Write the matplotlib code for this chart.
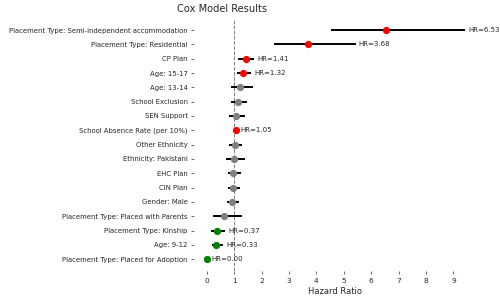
import numpy as np
import matplotlib
matplotlib.use("Agg")
import matplotlib.pyplot as plt

# variables, top to bottom
names = [
    "Placement Type: Semi-independent accommodation",
    "Placement Type: Residential",
    "CP Plan",
    "Age: 15-17",
    "Age: 13-14",
    "School Exclusion",
    "SEN Support",
    "School Absence Rate (per 10%)",
    "Other Ethnicity",
    "Ethnicity: Pakistani",
    "EHC Plan",
    "CIN Plan",
    "Gender: Male",
    "Placement Type: Placed with Parents",
    "Placement Type: Kinship",
    "Age: 9-12",
    "Placement Type: Placed for Adoption",
]
hr = [6.53, 3.68, 1.41, 1.32, 1.22, 1.15, 1.08, 1.05, 1.02, 1.00, 0.97, 0.96, 0.91, 0.61, 0.37, 0.33, 0.00]
ci_low = [4.55, 2.50, 1.17, 1.13, 0.90, 0.93, 0.85, 1.02, 0.86, 0.75, 0.81, 0.81, 0.78, 0.27, 0.20, 0.23, 0.00]
ci_high = [9.39, 5.39, 1.70, 1.58, 1.66, 1.43, 1.35, 1.08, 1.25, 1.35, 1.20, 1.18, 1.12, 1.25, 0.64, 0.55, 0.00]
significant = [True, True, True, True, False, False, False, True, False, False, False, False, False, False, True, True, True]

txt = "#262626"

fig, ax = plt.subplots(figsize=(5, 3), dpi=100)
fig.subplots_adjust(left=0.388, right=0.954, top=0.938, bottom=0.098)

n = len(names)
ypos = np.arange(n)[::-1]

for i in range(n):
    if significant[i]:
        color = "red" if hr[i] > 1 else "green"
    else:
        color = "gray"
    ax.plot([ci_low[i], ci_high[i]], [ypos[i], ypos[i]], color="black", lw=1.4, zorder=1)
    ax.plot(hr[i], ypos[i], "o", color=color, markersize=4.2, zorder=2)
    if significant[i]:
        ax.text(ci_high[i] + 0.15, ypos[i], "HR=%.2f" % hr[i], fontsize=5,
                va="center", ha="left", color=txt)

ax.axvline(1, color="gray", linestyle="--", lw=0.7, zorder=0)

ax.set_yticks(ypos)
ax.set_yticklabels(names, fontsize=4.95, color=txt)
ax.set_xticks(range(10))
ax.tick_params(axis="x", labelsize=5.3, labelcolor=txt, length=2, width=0.6, color="#555555")
ax.tick_params(axis="y", length=2, width=0.6, color="#555555", pad=2.5)
ax.set_xlim(-0.47, 9.86)
ax.set_ylim(-0.8, n - 0.2)
ax.set_xlabel("Hazard Ratio", fontsize=6, labelpad=2, color=txt)
ax.set_title("Cox Model Results", fontsize=7.1, pad=5, color=txt, x=0.099)
for s in ax.spines.values():
    s.set_visible(False)

fig.savefig("out.png", dpi=100)
